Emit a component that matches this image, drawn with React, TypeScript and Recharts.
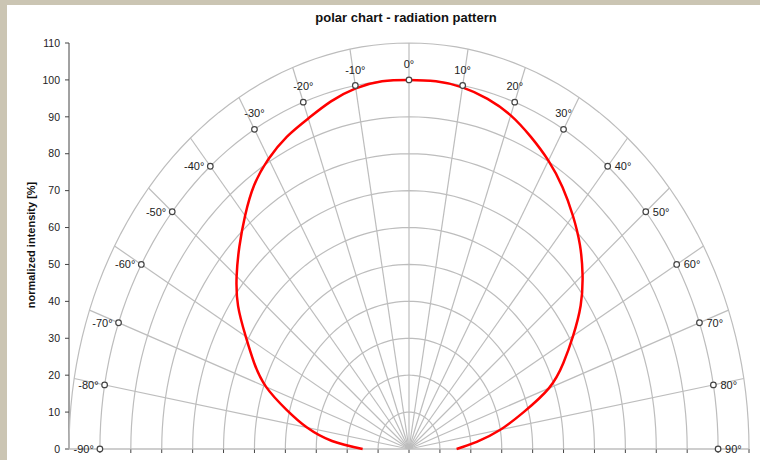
import React from "react";
import { ScatterChart, Scatter, XAxis, YAxis } from "recharts";

// measured radiation pattern, read every 5 degrees
const angles = [
    -90, -85, -80, -75, -70, -65, -60, -55, -50, -45, -40, -35, -30, -25, -20, -15, -10, -5,
    0, 5, 10, 15, 20, 25, 30, 35, 40, 45, 50, 55, 60, 65, 70, 75, 80, 85, 90,
];
const intensity = [
    15, 25, 33.5, 41, 49.2, 55.3, 61, 67.5, 72.8, 77.6, 82.5, 87.3, 90.8, 93.4, 95.3, 97.5, 99.2, 100,
    100, 100, 99.5, 98.2, 96.2, 93.3, 90.2, 86.6, 82.5, 78.2, 73.3, 67.8, 61.3, 55.1, 48.2, 38.3, 30, 22, 15.4,
];

const markerAngles = [-90, -80, -70, -60, -50, -40, -30, -20, -10, 0, 10, 20, 30, 40, 50, 60, 70, 80, 90];
const markerRadius = 100;
const gridRadii = [10, 20, 30, 40, 50, 60, 70, 80, 90, 100, 110];
const yTicks = [0, 10, 20, 30, 40, 50, 60, 70, 80, 90, 100, 110];
const xTicks = [-110, -100, -90, -80, -70, -60, -50, -40, -30, -20, -10, 0, 10, 20, 30, 40, 50, 60, 70, 80, 90, 100, 110];

const toXY = (deg: number, r: number) => ({
    x: r * Math.sin((deg * Math.PI) / 180),
    y: r * Math.cos((deg * Math.PI) / 180),
});

const curveData = angles.map((a, i) => toXY(a, intensity[i]));

const arcs = gridRadii.map((r) => {
    const pts = [];
    for (let a = -90; a <= 90; a += 2) pts.push(toXY(a, r));
    return pts;
});

const spokes = markerAngles.map((a) => [toXY(a, 0), toXY(a, 110)]);

const markers = markerAngles.map((a) => ({ ...toXY(a, markerRadius), angle: a }));

const GRID = "#bdbdbd";
const FONT = "'Liberation Sans', Arial, sans-serif";

const noShape = () => <g />;

const MarkerShape = (props: any) => {
    const { cx, cy, payload } = props;
    const a = payload.angle;
    let tx = cx;
    let ty = cy - 12;
    let anchor: "start" | "middle" | "end" = "middle";
    if (a <= -40) {
        tx = cx - 6;
        ty = cy + 4;
        anchor = "end";
    } else if (a >= 40) {
        tx = cx + 7;
        ty = cy + 4;
        anchor = "start";
    }
    return (
        <g>
            <circle cx={cx} cy={cy} r={2.8} fill="#ffffff" stroke="#444444" strokeWidth={1.2} />
            <text x={tx} y={ty} textAnchor={anchor} fontSize={11} fontFamily={FONT} fill="#222222">
                {`${a}°`}
            </text>
        </g>
    );
};

const App: React.FC = () => {
    return (
        <div style={{ position: "absolute", left: 0, top: 0, width: 760, height: 460, background: "#cbc5b3" }}>
            <div style={{ position: "absolute", left: 7, top: 5, width: 753, height: 455, background: "#ffffff" }} />
            <div style={{ position: "absolute", left: 0, top: 0 }}>
                <ScatterChart width={760} height={460} margin={{ top: 43, right: 11, bottom: 0, left: 0 }}>
                    <XAxis
                        type="number"
                        dataKey="x"
                        domain={[-110, 110]}
                        ticks={xTicks}
                        height={11}
                        tick={noShape}
                        tickSize={4}
                        axisLine={{ stroke: GRID }}
                        tickLine={{ stroke: "#444444" }}
                    />
                    <YAxis
                        type="number"
                        dataKey="y"
                        domain={[0, 110]}
                        ticks={yTicks}
                        width={69}
                        tickSize={4}
                        tickMargin={5}
                        axisLine={{ stroke: "#444444" }}
                        tickLine={{ stroke: "#444444" }}
                        tick={{ fontSize: 10.5, fontFamily: FONT, fill: "#222222" }}
                    />
                    {arcs.map((pts, i) => (
                        <Scatter
                            key={`arc-${i}`}
                            data={pts}
                            line={{ stroke: GRID, strokeWidth: 1.2 }}
                            shape={noShape}
                            isAnimationActive={false}
                        />
                    ))}
                    {spokes.map((pts, i) => (
                        <Scatter
                            key={`spoke-${i}`}
                            data={pts}
                            line={{ stroke: GRID, strokeWidth: 1.2 }}
                            shape={noShape}
                            isAnimationActive={false}
                        />
                    ))}
                    <Scatter
                        data={curveData}
                        line={{ stroke: "#ff0000", strokeWidth: 2.5 }}
                        lineJointType="natural"
                        shape={noShape}
                        isAnimationActive={false}
                    />
                    <Scatter data={markers} shape={MarkerShape} isAnimationActive={false} />
                </ScatterChart>
            </div>
            <svg width={760} height={460} style={{ position: "absolute", left: 0, top: 0, pointerEvents: "none" }}>
                <text x={406} y={22} textAnchor="middle" fontSize={13} fontWeight="bold" fontFamily={FONT} fill="#111111">
                    polar chart - radiation pattern
                </text>
                <text
                    x={35}
                    y={245}
                    transform="rotate(-90, 35, 245)"
                    textAnchor="middle"
                    fontSize={11}
                    fontWeight="bold"
                    fontFamily={FONT}
                    fill="#111111"
                >
                    normalized intensity [%]
                </text>
            </svg>
        </div>
    );
};

export default App;
